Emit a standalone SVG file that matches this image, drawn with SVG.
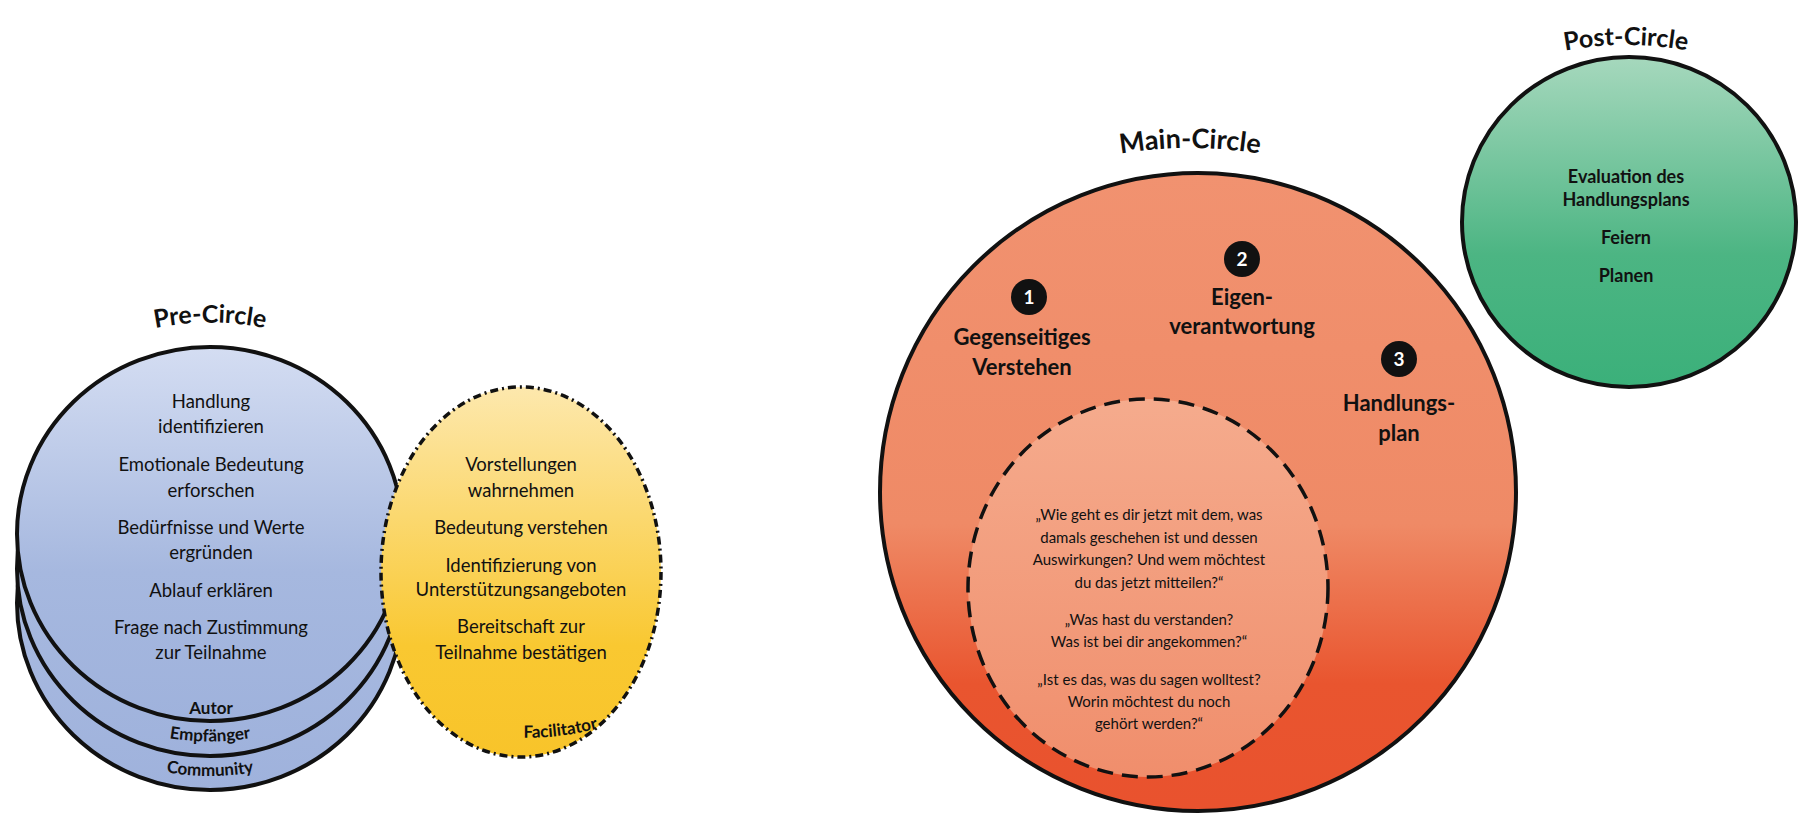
<svg xmlns="http://www.w3.org/2000/svg" width="1811" height="830" viewBox="0 0 1811 830">
<defs>
<linearGradient id="gBlue" x1="0" y1="0" x2="0" y2="1"><stop offset="0" stop-color="#d4ddf2"/><stop offset="0.6" stop-color="#a6b8df"/><stop offset="1" stop-color="#9fb2dc"/></linearGradient>
<linearGradient id="gYel" x1="0" y1="0" x2="0" y2="1"><stop offset="0" stop-color="#fde8ad"/><stop offset="0.7" stop-color="#f9c831"/><stop offset="1" stop-color="#f8c42a"/></linearGradient>
<linearGradient id="gMain" x1="0" y1="0" x2="0" y2="1"><stop offset="0" stop-color="#f19270"/><stop offset="0.55" stop-color="#ef8a66"/><stop offset="0.8" stop-color="#e9552f"/><stop offset="1" stop-color="#e9522e"/></linearGradient>
<linearGradient id="gIn" x1="0" y1="0" x2="0" y2="1"><stop offset="0" stop-color="#f5ab8d"/><stop offset="1" stop-color="#f08e6c"/></linearGradient>
<linearGradient id="gGreen" x1="0" y1="0" x2="0" y2="1"><stop offset="0" stop-color="#a6d8bd"/><stop offset="0.6" stop-color="#4cb583"/><stop offset="1" stop-color="#3bb07a"/></linearGradient>
<path id="pPre" d="M 100 345 Q 210 300 320 345"/>
<path id="pMain" d="M 1060 168 Q 1190 128 1320 168"/>
<path id="pPost" d="M 1520 62 Q 1626 28 1732 62"/>
<path id="pEmp" d="M 120 725 Q 210 758 300 725"/>
<path id="pCom" d="M 120 760 Q 210 792 300 760"/>
<path id="pFac" d="M 490 735 Q 560 745 630 718"/>
</defs>
<style>
.t{font-family:Lato,"Open Sans",sans-serif;fill:#111;text-anchor:middle}
.n{font-size:18.5px}
.b{font-weight:bold}
.o{stroke:#111;stroke-width:4}
</style>
<g id="pre-circle">
<ellipse cx="210" cy="603" rx="193" ry="187" fill="url(#gBlue)" class="o"/>
<ellipse cx="210" cy="569" rx="193" ry="187" fill="url(#gBlue)" class="o"/>
<ellipse cx="210" cy="534" rx="193" ry="187" fill="url(#gBlue)" class="o"/>
<text class="t b" font-size="25"><textPath href="#pPre" startOffset="50%">Pre-Circle</textPath></text>
<g class="t n">
<text x="211" y="408">Handlung</text><text x="211" y="433">identifizieren</text>
<text x="211" y="471">Emotionale Bedeutung</text><text x="211" y="497">erforschen</text>
<text x="211" y="534">Bedürfnisse und Werte</text><text x="211" y="559">ergründen</text>
<text x="211" y="597">Ablauf erklären</text>
<text x="211" y="634">Frage nach Zustimmung</text><text x="211" y="659">zur Teilnahme</text>
</g>
<text class="t b" font-size="17" x="211" y="714">Autor</text>
<text class="t b" font-size="17"><textPath href="#pEmp" startOffset="50%">Empfänger</textPath></text>
<text class="t b" font-size="17"><textPath href="#pCom" startOffset="50%">Community</textPath></text>
</g>
<g id="facilitator">
<ellipse cx="521" cy="572" rx="140" ry="185" fill="url(#gYel)" stroke="#111" stroke-width="3.5" stroke-dasharray="8 4 2 4"/>
<g class="t n">
<text x="521" y="471">Vorstellungen</text><text x="521" y="497">wahrnehmen</text>
<text x="521" y="534">Bedeutung verstehen</text>
<text x="521" y="572">Identifizierung von</text><text x="521" y="596">Unterstützungsangeboten</text>
<text x="521" y="633">Bereitschaft zur</text><text x="521" y="659">Teilnahme bestätigen</text>
</g>
<text class="t b" font-size="17"><textPath href="#pFac" startOffset="50%">Facilitator</textPath></text>
</g>
<g id="main-circle">
<ellipse cx="1198" cy="492" rx="318" ry="319" fill="url(#gMain)" class="o"/>
<text class="t b" font-size="27"><textPath href="#pMain" startOffset="50%">Main-Circle</textPath></text>
</g>
<g id="step1">
<circle cx="1029" cy="297" r="18" fill="#111"/>
<text class="t b" x="1029" y="304" font-size="19" fill="#fff" style="fill:#fff">1</text>
<text class="t b" x="1022" y="345" font-size="22">Gegenseitiges</text>
<text class="t b" x="1022" y="375" font-size="22">Verstehen</text>
</g>
<g id="step2">
<circle cx="1242" cy="259" r="18" fill="#111"/>
<text class="t b" x="1242" y="266" font-size="19" style="fill:#fff">2</text>
<text class="t b" x="1242" y="305" font-size="22">Eigen-</text>
<text class="t b" x="1242" y="334" font-size="22">verantwortung</text>
</g>
<g id="step3">
<circle cx="1399" cy="359" r="18" fill="#111"/>
<text class="t b" x="1399" y="366" font-size="19" style="fill:#fff">3</text>
<text class="t b" x="1399" y="411" font-size="22">Handlungs-</text>
<text class="t b" x="1399" y="441" font-size="22">plan</text>
</g>
<g id="questions">
<ellipse cx="1148" cy="588" rx="180" ry="189" fill="url(#gIn)" stroke="#111" stroke-width="3.5" stroke-dasharray="16 9"/>
<g class="t" font-size="15">
<text x="1149" y="520">„Wie geht es dir jetzt mit dem, was</text>
<text x="1149" y="543">damals geschehen ist und dessen</text>
<text x="1149" y="565">Auswirkungen? Und wem möchtest</text>
<text x="1149" y="588">du das jetzt mitteilen?“</text>
<text x="1149" y="625">„Was hast du verstanden?</text>
<text x="1149" y="647">Was ist bei dir angekommen?“</text>
<text x="1149" y="685">„Ist es das, was du sagen wolltest?</text>
<text x="1149" y="707">Worin möchtest du noch</text>
<text x="1149" y="729">gehört werden?“</text>
</g>
</g>
<g id="post-circle">
<ellipse cx="1629" cy="222" rx="167" ry="165" fill="url(#gGreen)" class="o"/>
<text class="t b" font-size="25"><textPath href="#pPost" startOffset="50%">Post-Circle</textPath></text>
<g class="t b" font-size="18">
<text x="1626" y="183">Evaluation des</text>
<text x="1626" y="206">Handlungsplans</text>
<text x="1626" y="244">Feiern</text>
<text x="1626" y="282">Planen</text>
</g>
</g>
<g id="connectors"/>
</svg>
